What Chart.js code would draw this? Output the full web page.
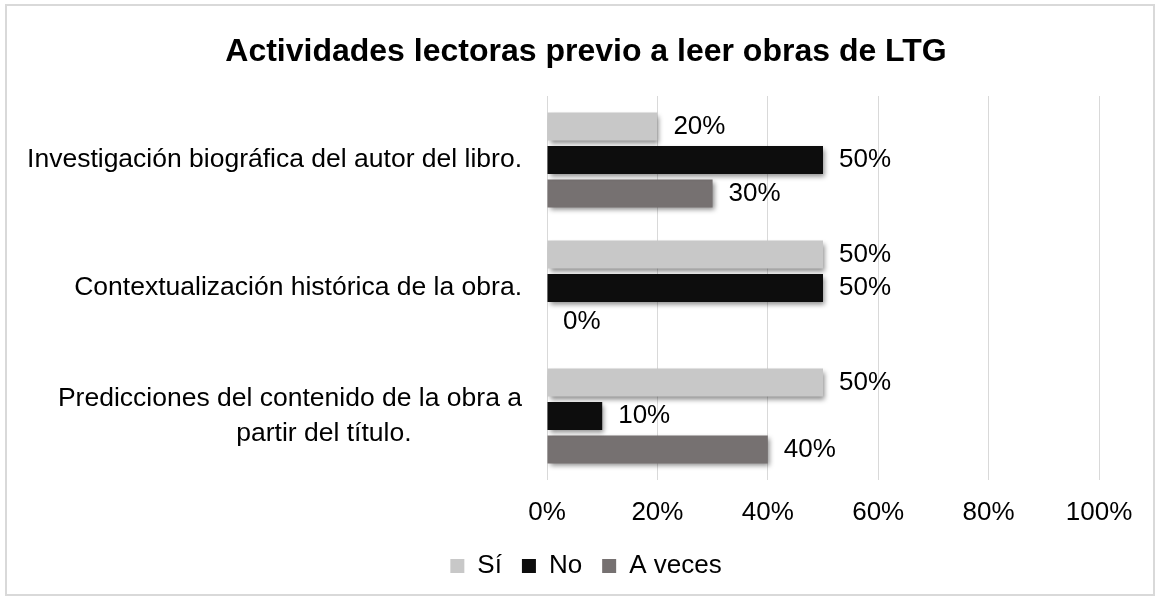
<!DOCTYPE html>
<html><head><meta charset="utf-8">
<script src="https://cdn.jsdelivr.net/npm/chart.js@4/dist/chart.umd.min.js"></script>
<style>
html,body{margin:0;padding:0;background:#fff;}
#box{position:absolute;left:5px;top:4px;width:1146px;height:588px;border:2px solid #d9d9d9;background:#fff;}
canvas{display:block;}
</style></head><body>
<div id="box"><canvas id="c" width="1146" height="588"></canvas></div>
<script>
const chartTitle = "Actividades lectoras previo a leer obras de LTG";
const categories = [
  ["Investigación biográfica del autor del libro."],
  ["Contextualización histórica de la obra."],
  ["Predicciones del contenido de la obra a", "partir del título."]
];
const seriesNames = ["Sí", "No", "A veces"];
const siValues = [20, 50, 50];
const noValues = [50, 50, 10];
const aVecesValues = [30, 0, 40];
const xTickValues = [0, 20, 40, 60, 80, 100];

const FONT = '"Liberation Sans", Arial, Helvetica, sans-serif';
const secondLinePad = ' '.repeat(15);
const labels = categories.map(lines => lines.map((l, i) => i > 0 ? l + secondLinePad : l));

const shadowPlugin = {
  id: 'barShadow',
  beforeDatasetsDraw(chart) {
    const ctx = chart.ctx;
    ctx.save();
    ctx.shadowColor = 'rgba(0,0,0,0.45)';
    ctx.shadowBlur = 5;
    ctx.shadowOffsetX = 2;
    ctx.shadowOffsetY = 3;
  },
  afterDatasetsDraw(chart) { chart.ctx.restore(); }
};
const valueLabels = {
  id: 'valueLabels',
  afterDatasetsDraw(chart) {
    const ctx = chart.ctx;
    ctx.save();
    ctx.font = '26px ' + FONT;
    ctx.fillStyle = '#000';
    ctx.textAlign = 'left';
    ctx.textBaseline = 'middle';
    chart.data.datasets.forEach((ds, i) => {
      chart.getDatasetMeta(i).data.forEach((bar, j) => {
        ctx.fillText(ds.data[j] + '%', bar.x + 16, bar.y);
      });
    });
    ctx.restore();
  }
};
// centre title and legend over the region the original chart used
const centerBoxes = {
  id: 'centerBoxes',
  afterLayout(chart) {
    const a = chart.chartArea;
    const from = 66;
    if (chart.titleBlock) { chart.titleBlock.left = from; chart.titleBlock.right = a.right; }
    if (chart.legend) { chart.legend.left = from; chart.legend.right = a.right; }
  }
};

new Chart(document.getElementById('c'), {
  type: 'bar',
  data: {
    labels: labels,
    datasets: [
      { label: seriesNames[0], data: siValues, backgroundColor: '#c8c8c8' },
      { label: seriesNames[1], data: noValues, backgroundColor: '#0d0d0d' },
      { label: seriesNames[2], data: aVecesValues, backgroundColor: '#767171' }
    ]
  },
  options: {
    indexAxis: 'y',
    responsive: false,
    animation: false,
    datasets: { bar: { categoryPercentage: 0.785, barPercentage: 0.836, borderWidth: 0 } },
    layout: { padding: { top: 0, left: 0, right: 54, bottom: 5 } },
    scales: {
      x: {
        min: 0, max: 100,
        afterBuildTicks(s) { s.ticks = xTickValues.map(v => ({ value: v })); },
        ticks: { callback: v => v + '%', font: { size: 26, family: FONT }, color: '#000', padding: 17, maxRotation: 0 },
        grid: { color: '#d9d9d9', lineWidth: 1, drawTicks: false },
        border: { display: false },
        afterFit(s) { s.height = 53; }
      },
      y: {
        ticks: { font: { size: 26.5, family: FONT, lineHeight: 1.3 }, color: '#000', padding: 25 },
        grid: { display: false, drawTicks: false },
        border: { display: false },
        afterFit(s) { s.width = 540; }
      }
    },
    plugins: {
      title: { display: true, text: chartTitle, color: '#000', font: { size: 32, weight: 'bold', family: FONT }, padding: { top: 27, bottom: 24.6 } },
      legend: { position: 'bottom', labels: { boxWidth: 14, boxHeight: 14, padding: 20, color: '#000', font: { size: 26, family: FONT } } },
      tooltip: { enabled: false }
    }
  },
  plugins: [shadowPlugin, valueLabels, centerBoxes]
});
</script>
</body></html>
